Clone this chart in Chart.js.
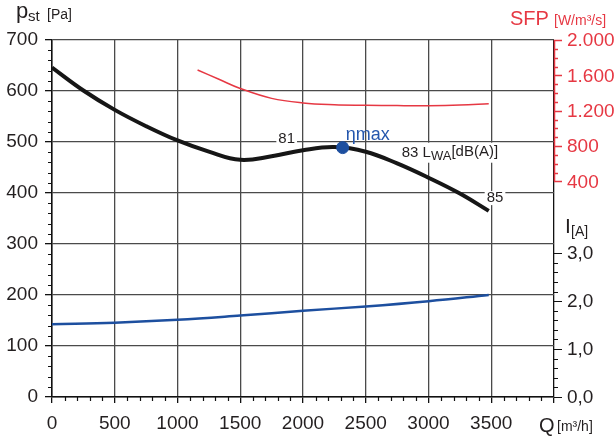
<!DOCTYPE html>
<html>
<head>
<meta charset="utf-8">
<script src="https://cdn.jsdelivr.net/npm/chart.js@4"></script>
<style>
  html, body { margin: 0; padding: 0; background: #fff; }
  #wrap { width: 616px; height: 437px; }
</style>
</head>
<body>
<div id="wrap"><canvas id="fan"></canvas></div>
<script>
// Fan curve: static pressure, specific fan power and current vs. air flow
const flowPressure = [0, 250, 500, 750, 1000, 1250, 1500, 1750, 2000, 2250, 2500, 2750, 3000, 3250, 3480];
const pressurePa   = [646, 601, 563, 531, 503, 481, 465, 472, 484, 490, 481, 458, 430, 399, 365];

const flowSfp   = [1160, 1330, 1500, 1750, 2000, 2250, 2500, 2750, 3000, 3250, 3480];
const sfpValues = [1661, 1556, 1452, 1340, 1288, 1268, 1262, 1258, 1257, 1264, 1280];

const flowCurrent = [0, 500, 1000, 1500, 2000, 2500, 3000, 3480];
const currentA    = [1.52, 1.55, 1.61, 1.70, 1.80, 1.89, 2.00, 2.13];

const etaMaxPoint = [2316, 489];

const soundFlow  = [1870, 2787, 3530];
const soundPa    = [507, 479, 390];
const soundLevel = ['81', '83', '85'];

const flowTickLabels    = ['0', '500', '1000', '1500', '2000', '2500', '3000', '3500'];
const sfpTickValues     = [400, 800, 1200, 1600, 2000];
const sfpTickLabels     = ['400', '800', '1.200', '1.600', '2.000'];
const currentTickValues = [0, 1, 2, 3];
const currentTickLabels = ['0,0', '1,0', '2,0', '3,0'];

const FONT = "'Liberation Sans', Arial, sans-serif";
const INK = '#231f20';
const RED = '#e63843';
const BLUE = '#1d4f9f';
const GRID = '#4a4a4a';

const pts = (xs, ys) => xs.map((x, i) => ({ x: x, y: ys[i] }));

const axesPlugin = {
  id: 'fanAxes',
  beforeDatasetsDraw(chart) {
    const { ctx, scales } = chart;
    ctx.save();
    ctx.font = '15px ' + FONT;
    ctx.textBaseline = 'middle';
    soundLevel.forEach((txt, i) => {
      const x = scales.x.getPixelForValue(soundFlow[i]);
      const y = scales.y.getPixelForValue(soundPa[i]);
      if (txt === '83') {
        // level with unit L_WA[dB(A)]
        const w1 = ctx.measureText('83 L').width;
        ctx.font = '13px ' + FONT;
        const w2 = ctx.measureText('WA').width;
        ctx.font = '15px ' + FONT;
        const w3 = ctx.measureText('[dB(A)]').width;
        ctx.fillStyle = '#fff';
        ctx.fillRect(x - 2, y - 10, w1 + w2 + w3 + 4, 20);
        ctx.fillStyle = INK;
        ctx.textAlign = 'left';
        ctx.fillText('83 L', x, y);
        ctx.font = '13px ' + FONT;
        ctx.fillText('WA', x + w1, y + 4);
        ctx.font = '15px ' + FONT;
        ctx.fillText('[dB(A)]', x + w1 + w2, y - 1);
      } else {
        const w = ctx.measureText(txt).width;
        ctx.fillStyle = '#fff';
        ctx.fillRect(x - w / 2 - 2, y - 7, w + 4, 14);
        ctx.fillStyle = INK;
        ctx.textAlign = 'center';
        ctx.fillText(txt, x, y);
      }
    });
    ctx.restore();
  },
  afterDraw(chart) {
    const { ctx, chartArea: a, scales } = chart;
    const xs = scales.x, ys = scales.y, sfp = scales.sfp, cur = scales.cur;
    ctx.save();
    ctx.lineWidth = 1.2;
    ctx.strokeStyle = '#111';
    ctx.beginPath();
    // minor ticks on flow axis
    for (let q = 100; q < 4000; q += 100) {
      if (q % 500 === 0) continue;
      const x = Math.round(xs.getPixelForValue(q)) + 0.5;
      ctx.moveTo(x, a.bottom); ctx.lineTo(x, a.bottom + 4);
    }
    // minor ticks on pressure axis
    for (let p = 20; p < 700; p += 20) {
      if (p % 100 === 0) continue;
      const y = Math.round(ys.getPixelForValue(p)) + 0.5;
      ctx.moveTo(a.left - 4, y); ctx.lineTo(a.left, y);
    }
    // current axis ticks
    for (let i = 0; i <= 30; i += 2) {
      const y = Math.round(cur.getPixelForValue(i / 10)) + 0.5;
      const len = i % 10 === 0 ? 8 : 4;
      ctx.moveTo(a.right, y); ctx.lineTo(a.right + len, y);
    }
    ctx.stroke();

    // SFP axis (red)
    ctx.strokeStyle = RED;
    ctx.lineWidth = 1.5;
    ctx.beginPath();
    const xr = a.right + 0.5;
    ctx.moveTo(xr, sfp.getPixelForValue(2000));
    ctx.lineTo(xr, sfp.getPixelForValue(400));
    for (let s = 400; s <= 2000; s += 100) {
      const y = Math.round(sfp.getPixelForValue(s)) + 0.5;
      const len = s % 400 === 0 ? 8 : 4;
      ctx.moveTo(a.right, y); ctx.lineTo(a.right + len, y);
    }
    ctx.stroke();

    ctx.font = '19px ' + FONT;
    ctx.textAlign = 'left';
    ctx.textBaseline = 'middle';
    ctx.fillStyle = RED;
    sfpTickValues.forEach((v, i) => {
      ctx.fillText(sfpTickLabels[i], a.right + 13, sfp.getPixelForValue(v) + 1);
    });
    ctx.fillStyle = INK;
    currentTickValues.forEach((v, i) => {
      ctx.fillText(currentTickLabels[i], a.right + 13, cur.getPixelForValue(v) + 1);
    });

    // axis titles
    ctx.textBaseline = 'alphabetic';
    ctx.fillStyle = INK;
    ctx.font = '22px ' + FONT;
    ctx.fillText('p', 16, 18);
    ctx.font = '15px ' + FONT;
    ctx.fillText('st', 28, 21);
    ctx.font = '14px ' + FONT;
    ctx.fillText('[Pa]', 47, 19);

    ctx.fillStyle = RED;
    ctx.font = '20px ' + FONT;
    ctx.fillText('SFP', 510, 25);
    ctx.font = '14px ' + FONT;
    ctx.fillText('[W/m\u00b3/s]', 554, 25);

    ctx.fillStyle = INK;
    ctx.font = '21px ' + FONT;
    ctx.fillText('I', 565, 233);
    ctx.font = '14px ' + FONT;
    ctx.fillText('[A]', 571, 236);

    ctx.font = '20px ' + FONT;
    ctx.fillText('Q', 539, 432);
    ctx.font = '14px ' + FONT;
    ctx.fillText('[m\u00b3/h]', 557, 431);

    // efficiency optimum label
    const ex = xs.getPixelForValue(etaMaxPoint[0]);
    const ey = ys.getPixelForValue(etaMaxPoint[1]);
    ctx.fillStyle = '#2557ad';
    ctx.font = '18px ' + FONT;
    ctx.fillText('\u03b7max', ex + 3, ey - 8);
    ctx.restore();
  }
};

new Chart(document.getElementById('fan'), {
  type: 'scatter',
  data: {
    datasets: [
      {
        label: 'eta max',
        data: [{ x: etaMaxPoint[0], y: etaMaxPoint[1] }],
        yAxisID: 'y',
        pointRadius: 6,
        pointBackgroundColor: BLUE,
        pointBorderColor: BLUE,
        showLine: false
      },
      {
        label: 'p_st',
        data: pts(flowPressure, pressurePa),
        yAxisID: 'y',
        showLine: true,
        borderColor: '#161616',
        borderWidth: 4,
        pointRadius: 0,
        tension: 0.4
      },
      {
        label: 'SFP',
        data: pts(flowSfp, sfpValues),
        yAxisID: 'sfp',
        showLine: true,
        borderColor: RED,
        borderWidth: 1.5,
        pointRadius: 0,
        tension: 0.4
      },
      {
        label: 'I',
        data: pts(flowCurrent, currentA),
        yAxisID: 'cur',
        showLine: true,
        borderColor: BLUE,
        borderWidth: 2.5,
        pointRadius: 0,
        tension: 0.4
      }
    ]
  },
  plugins: [axesPlugin],
  options: {
    responsive: true,
    maintainAspectRatio: false,
    animation: false,
    events: [],
    layout: { padding: { top: 40, right: 62, left: 0, bottom: 0 } },
    plugins: { legend: { display: false }, tooltip: { enabled: false } },
    scales: {
      x: {
        type: 'linear',
        min: 0, max: 4000,
        afterFit: (s) => { s.height = 40; },
        afterBuildTicks: (s) => { s.ticks = [0, 500, 1000, 1500, 2000, 2500, 3000, 3500, 4000].map(v => ({ value: v })); },
        ticks: {
          autoSkip: false,
          maxRotation: 0,
          padding: 9,
          color: INK,
          font: { family: FONT, size: 19 },
          callback: (v) => { const i = v / 500; return i < flowTickLabels.length ? flowTickLabels[i] : ''; }
        },
        grid: {
          color: (c) => (c.tick && c.tick.value === 4000 ? '#111' : GRID),
          lineWidth: 1.3,
          tickLength: 6,
          tickColor: '#111'
        },
        border: { color: '#111', width: 1.5 }
      },
      y: {
        type: 'linear',
        position: 'left',
        min: 0, max: 700,
        afterFit: (s) => { s.width = 52; },
        ticks: {
          stepSize: 100,
          padding: 7,
          color: INK,
          font: { family: FONT, size: 19 }
        },
        grid: {
          color: GRID,
          lineWidth: 1.3,
          tickLength: 7,
          tickColor: '#111'
        },
        border: { color: '#111', width: 1.5 }
      },
      sfp: {
        type: 'linear',
        position: 'right',
        display: false,
        min: -2037, max: 2000
      },
      cur: {
        type: 'linear',
        position: 'right',
        display: false,
        min: 0, max: 7.45
      }
    }
  }
});
</script>
</body>
</html>
